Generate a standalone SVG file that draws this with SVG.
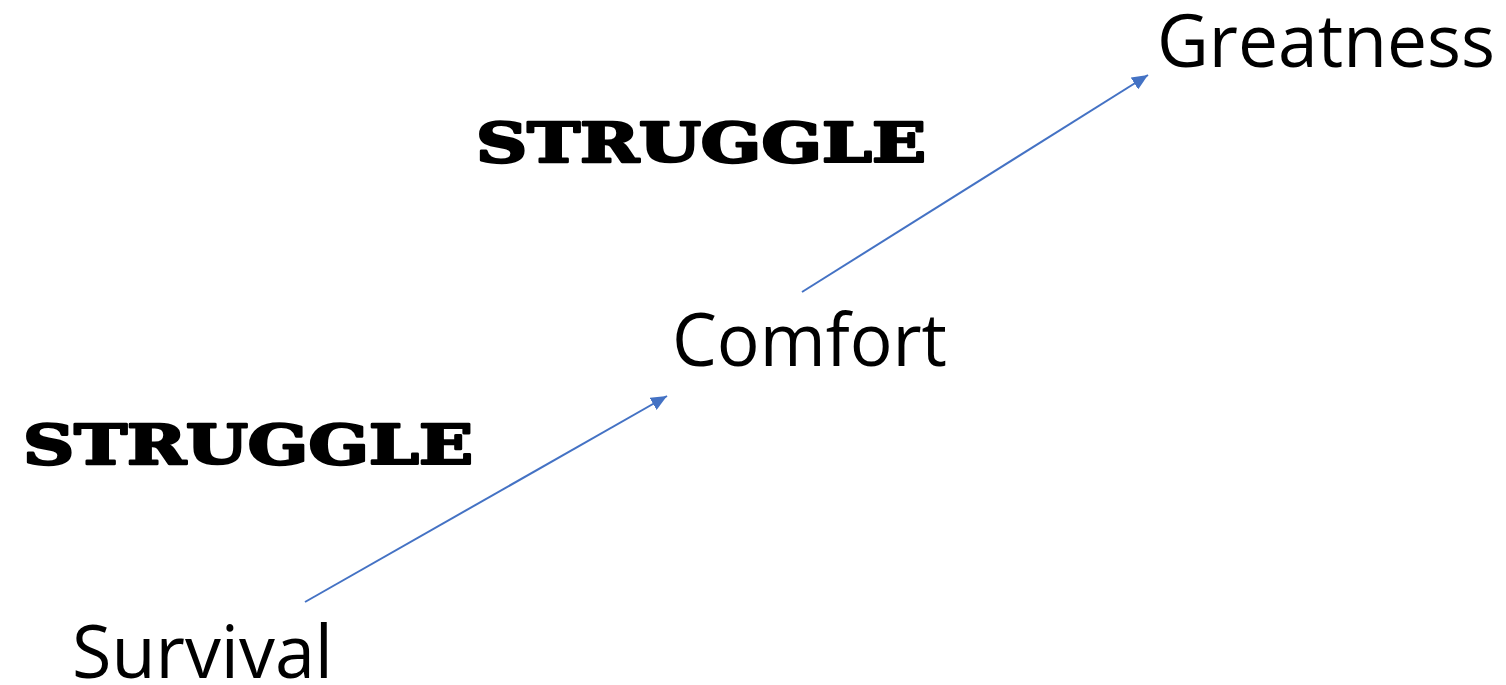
<svg xmlns="http://www.w3.org/2000/svg" width="1506" height="685" viewBox="0 0 1506 685">
<style>
.lbl{font-family:"Open Sans","Liberation Sans",sans-serif;font-size:74px;fill:#000}
.str{font-family:"DejaVu Serif","Liberation Serif",serif;font-weight:bold;font-size:54px;fill:#000;stroke:#000;stroke-width:2.5;stroke-linejoin:round}
.conn{stroke:#4472C4;stroke-width:2;fill:none}
</style>
<defs>
<marker id="arr" markerWidth="16" markerHeight="14" refX="16" refY="7" orient="auto" markerUnits="userSpaceOnUse">
<path d="M0,0 L16,7 L0,14 z" fill="#4472C4"/>
</marker>
</defs>
<g id="connectors">
<line class="conn" x1="305" y1="602" x2="667" y2="396" marker-end="url(#arr)"/>
<line class="conn" x1="802" y1="292" x2="1148" y2="75" marker-end="url(#arr)"/>
</g>
<g id="greatness"><text class="lbl" x="1157" y="67" textLength="338" lengthAdjust="spacingAndGlyphs">Greatness</text></g>
<g id="comfort"><text class="lbl" x="672" y="366" textLength="275" lengthAdjust="spacingAndGlyphs">Comfort</text></g>
<g id="survival"><text class="lbl" x="72" y="678" textLength="261" lengthAdjust="spacingAndGlyphs">Survival</text></g>
<g id="struggle-top"><text class="str" x="476" y="162" textLength="450" lengthAdjust="spacingAndGlyphs">STRUGGLE</text></g>
<g id="struggle-bottom"><text class="str" x="23" y="464" textLength="450" lengthAdjust="spacingAndGlyphs">STRUGGLE</text></g>
</svg>
